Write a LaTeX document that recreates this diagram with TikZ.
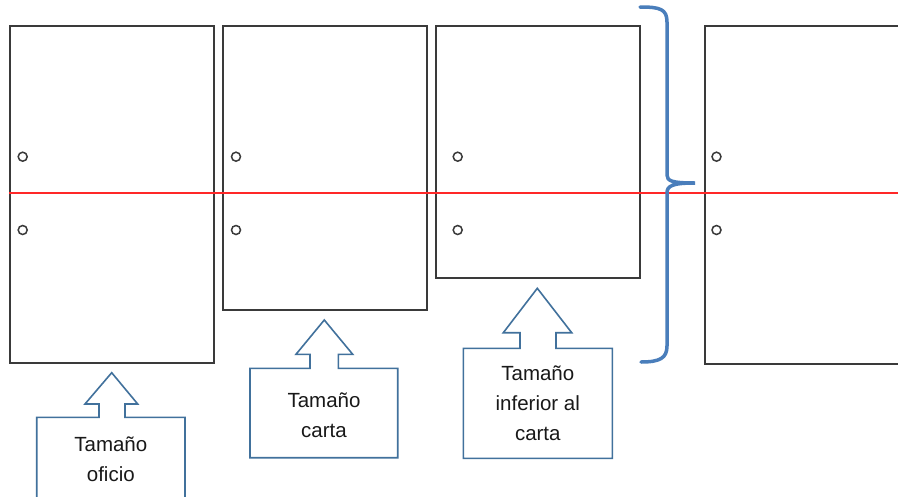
\documentclass[tikz,border=0pt]{standalone}
\usepackage{fontspec}
\setmainfont{Liberation Sans}
\definecolor{framegray}{HTML}{3A3A3A}
\definecolor{callblue}{HTML}{41719C}
\definecolor{braceblue}{HTML}{4A7EBB}
\definecolor{linered}{RGB}{255,40,40}
\tikzset{
  paper/.style={draw=framegray, line width=2pt, inner sep=0pt, anchor=north west, fill=white},
  hole/.style={circle, draw=framegray, line width=1.5pt, minimum size=9pt, inner sep=0pt},
  callout/.style={draw=callblue, line width=1.6pt, line join=miter},
  calltext/.style={font=\fontsize{20.5}{30}\selectfont, align=center, text=black!90, inner sep=0pt},
  redline/.style={color=linered, line width=2pt},
  bracestyle/.style={draw=braceblue, line width=3.5pt, line cap=round}
}
\begin{document}
\begin{tikzpicture}[x=1pt,y=-1pt]
\clip (0,0) rectangle (898,496);
\fill[white] (0,0) rectangle (898,496);
% sheets
\node[paper, minimum width=204pt, minimum height=337pt] (r1) at (9,25) {};
\node[paper, minimum width=204.3pt, minimum height=284.3pt] (r2) at (221.7,25) {};
\node[paper, minimum width=203.5pt, minimum height=251.7pt] (r3) at (435,25) {};
\node[paper, minimum width=260pt, minimum height=337.5pt] (r4) at (704,25) {};
% holes
\foreach \n/\x in {1/22.7,2/236,3/457.7,4/716.5}{
  \node[hole] (h\n a) at (\x,156.7) {};
  \node[hole] (h\n b) at (\x,230) {};
}
% red line
\coordinate (redL) at (9,193);
\coordinate (redR) at (898,193);
\draw[redline] (redL) -- (redR);
% brace
\draw[bracestyle] (640,7) .. controls (660,7) and (667,9) .. (667,22) -- (667,175)
  .. controls (667,181) and (672,183) .. (695,183)
  .. controls (672,183) and (667,186) .. (667,193) -- (667,346)
  .. controls (667,358) and (660,362) .. (641,362);
% callouts
\draw[callout] (111.7,372.7) -- (137.7,404) -- (125,404) -- (125,417.3) -- (185,417.3) -- (185,510)
  -- (36.7,510) -- (36.7,417.3) -- (99,417.3) -- (99,404) -- (85,404) -- cycle;
\draw[callout] (324.3,320) -- (352.7,354.3) -- (338.3,354.3) -- (338.3,368.3) -- (397.7,368.3) -- (397.7,457.7)
  -- (250,457.7) -- (250,368.3) -- (310,368.3) -- (310,354.3) -- (296,354.3) -- cycle;
\draw[callout] (537.3,288.3) -- (571.7,332.7) -- (556,332.7) -- (556,348.3) -- (612.3,348.3) -- (612.3,458.3)
  -- (463.3,458.3) -- (463.3,348.3) -- (520,348.3) -- (520,332.7) -- (503.3,332.7) -- cycle;
\node[calltext] (t1) at (110.8,459) {Tamaño\\oficio};
\node[calltext] (t2) at (324,415) {Tamaño\\carta};
\node[calltext] (t3) at (537.8,403) {Tamaño\\inferior al\\carta};
\end{tikzpicture}
\end{document}
